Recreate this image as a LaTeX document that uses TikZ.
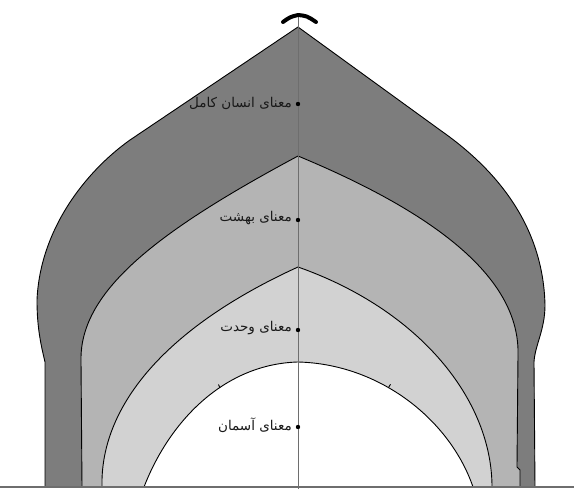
\documentclass[tikz,border=0pt]{standalone}
\usepackage{fontspec}
\TeXXeTstate=1
\newfontfamily\arabicfont[Script=Arabic]{DejaVu Sans}
\definecolor{bandA}{RGB}{125,125,125}
\definecolor{bandB}{RGB}{180,180,180}
\definecolor{bandC}{RGB}{210,210,210}
\definecolor{axisgray}{RGB}{110,110,110}
\tikzset{
  bound/.style={draw=black, line width=0.9pt, line join=round},
  tick/.style={draw=black, line width=0.9pt},
  dotmark/.style={circle, fill=black, inner sep=0pt, minimum size=4.4pt},
  lbl/.style={anchor=east, inner sep=0pt, font=\arabicfont\fontsize{13.5}{15}\selectfont, text=black!90}
}
\begin{document}
\begin{tikzpicture}[x=1pt,y=-1pt]
\useasboundingbox (0,0) rectangle (574,489);
\fill[white] (0,0) rectangle (574,489);
% outer band
\path[bound, fill=bandA] (45,487) -- (45,362)
  .. controls (41,345) and (37,328) .. (37,300)
  .. controls (40,230) and (85,172) .. (130,140)
  -- (298,27) -- (440,130)
  .. controls (490,165) and (543,220) .. (545,305)
  .. controls (545,330) and (535,345) .. (534,362)
  -- (535,487) -- cycle;
% second band
\path[bound, fill=bandB] (82,487) -- (81,360)
  .. controls (80,290) and (160,230) .. (298,156)
  .. controls (440,215) and (520,280) .. (518,355)
  -- (517,467) -- (520,470) -- (520,487) -- cycle;
% third band
\path[bound, fill=bandC] (102,487)
  .. controls (100,410) and (160,330) .. (298,267)
  .. controls (420,310) and (492,400) .. (492,487) -- cycle;
% inner
\path[bound, fill=white] (144,487)
  .. controls (170,420) and (225,364) .. (298,362)
  .. controls (380,364) and (450,420) .. (473,487) -- cycle;
% small notches on the inner arch
\coordinate (nA1) at (220,388); \coordinate (nA2) at (218.5,384.5);
\coordinate (nB1) at (388.5,387.6); \coordinate (nB2) at (390.5,384.3);
\path[tick] (nA1) -- (nA2);
\path[tick] (nB1) -- (nB2);
% axis and baseline
\coordinate (top) at (298,15);
\coordinate (bot) at (298,489);
\coordinate (bl) at (0,487);
\coordinate (br) at (574,487);
\draw[axisgray, line width=0.8pt] (top) -- (bot);
\draw[axisgray, line width=1.6pt] (bl) -- (br);
% cap
\coordinate (capL) at (283,22);
\coordinate (capM) at (298,15);
\coordinate (capR) at (316,22);
\draw[black, line width=4pt, line cap=round, line join=round] (capL) .. controls (290,17) .. (capM) .. controls (307,16) .. (capR);
% labels
\node[dotmark] (d1) at (298,104) {};
\node[dotmark] (d2) at (298,220) {};
\node[dotmark] (d3) at (298,330) {};
\node[dotmark] (d4) at (298,427) {};
\node[lbl] (t1) at (292,103) {\beginR معنای انسان کامل\endR};
\node[lbl] (t2) at (292,218) {\beginR معنای بهشت\endR};
\node[lbl] (t3) at (292,328) {\beginR معنای وحدت\endR};
\node[lbl] (t4) at (292,425) {\beginR معنای آسمان\endR};
\end{tikzpicture}
\end{document}
